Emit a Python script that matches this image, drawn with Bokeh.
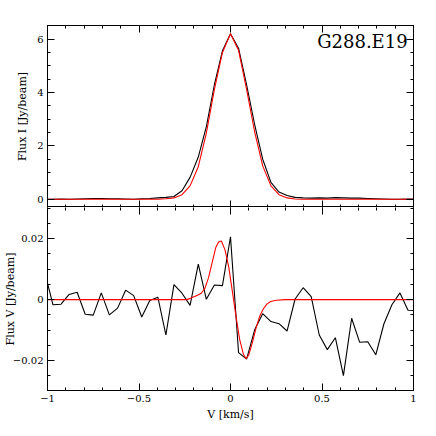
from bokeh.plotting import figure
from bokeh.layouts import column
from bokeh.models import LinearAxis, FixedTicker, Label, Range1d, CustomLabelingPolicy
from bokeh.embed import file_html
from bokeh.resources import INLINE

# ---------------- data ----------------
velocity = [-1.014, -0.970, -0.926, -0.882, -0.838, -0.794, -0.750, -0.706, -0.662, -0.617,
            -0.573, -0.529, -0.485, -0.441, -0.397, -0.353, -0.309, -0.265, -0.221, -0.176,
            -0.132, -0.088, -0.044, 0.000, 0.044, 0.088, 0.132, 0.176, 0.221, 0.265,
            0.309, 0.353, 0.397, 0.441, 0.485, 0.529, 0.573, 0.617, 0.662, 0.706,
            0.750, 0.794, 0.838, 0.882, 0.926, 0.970, 1.014]

flux_i_obs = [0.00, 0.00, 0.01, 0.00, 0.01, 0.02, 0.03, 0.03, 0.02, 0.02,
              0.01, 0.00, 0.02, 0.03, 0.05, 0.07, 0.10, 0.32, 0.82, 1.58,
              2.72, 4.29, 5.56, 6.20, 5.66, 4.29, 2.80, 1.50, 0.63, 0.27,
              0.14, 0.07, 0.05, 0.04, 0.05, 0.04, 0.06, 0.05, 0.04, 0.04,
              0.03, 0.02, 0.01, 0.00, 0.00, 0.01, 0.00]

flux_i_model = [0.00, 0.00, 0.00, 0.00, 0.00, 0.00, 0.00, 0.00, 0.00, 0.00,
                0.00, 0.00, 0.00, 0.00, 0.00, 0.02, 0.05, 0.17, 0.50, 1.22,
                2.48, 4.12, 5.50, 6.20, 5.58, 4.12, 2.52, 1.25, 0.50, 0.17,
                0.05, 0.01, 0.00, 0.00, 0.00, 0.00, 0.00, 0.00, 0.00, 0.00,
                0.00, 0.00, 0.00, 0.00, 0.00, 0.00, 0.00]

flux_v_obs = [0.0087, -0.0017, -0.0015, 0.0017, 0.0024, -0.0048, -0.0051, 0.0022, -0.0050, -0.0028,
              0.0031, 0.0013, -0.0057, -0.0003, 0.0008, -0.0116, 0.0049, 0.0021, -0.0019, 0.0116,
              0.0001, 0.0048, 0.0046, 0.0206, -0.0174, -0.0195, -0.0099, -0.0046, -0.0072, -0.0079,
              -0.0103, 0.0002, 0.0039, 0.0010, -0.0116, -0.0164, -0.0125, -0.0249, -0.0061, -0.0140,
              -0.0138, -0.0181, -0.0080, -0.0017, 0.0022, -0.0035, -0.0036]

model_v_velocity = [-1.0, -0.24, -0.22, -0.20, -0.18, -0.16, -0.14, -0.12, -0.10, -0.08,
                    -0.065, -0.05, -0.03, -0.01, 0.01, 0.03, 0.05, 0.07, 0.085, 0.10,
                    0.12, 0.14, 0.16, 0.18, 0.20, 0.22, 0.25, 0.30, 1.0]
flux_v_model = [0.0, 0.0, 0.0004, 0.0009, 0.0014, 0.0021, 0.0037, 0.0072, 0.0122, 0.0172,
                0.0189, 0.0192, 0.0163, 0.0108, 0.0028, -0.0055, -0.0130, -0.0178, -0.0194, -0.0181,
                -0.0140, -0.0092, -0.0054, -0.0030, -0.0014, -0.0006, -0.0002, 0.0, 0.0]

source_name = "G288.E19"

# ---------------- styling helpers ----------------
FONT = "DejaVu Serif"
x_ticker = FixedTicker(ticks=[-1, -0.5, 0, 0.5, 1],
                       minor_ticks=[round(-1 + 0.1 * i, 2) for i in range(21)])
x_over = {-1: "\u22121", -0.5: "\u22120.5"}


def style_axis(ax, labels=True):
    ax.major_tick_in = 7
    ax.major_tick_out = 0
    ax.minor_tick_in = 3
    ax.minor_tick_out = 0
    ax.axis_line_color = "black"
    ax.major_tick_line_color = "black"
    ax.minor_tick_line_color = "black"
    ax.major_label_text_font = FONT
    ax.major_label_text_font_size = "10px"
    ax.major_label_text_color = "black"
    ax.axis_label_text_font = FONT
    ax.axis_label_text_font_size = "11px"
    ax.axis_label_text_font_style = "normal"
    ax.axis_label_text_color = "black"
    if not labels:
        ax.major_label_text_font_size = "0px"
        ax.major_label_standoff = 0
        ax.major_label_policy = CustomLabelingPolicy(code="")
        ax.axis_label = None


# ---------------- top panel: Stokes I ----------------
p1 = figure(frame_width=366, frame_height=182,
            x_range=Range1d(-1, 1), y_range=Range1d(-0.31, 6.51),
            output_backend="svg", toolbar_location=None,
            min_border_left=39, min_border_right=15, min_border_top=25, min_border_bottom=0)
p1.xgrid.visible = False
p1.ygrid.visible = False
p1.outline_line_color = "black"

y1_ticker = FixedTicker(ticks=[0, 2, 4, 6], minor_ticks=[i * 0.5 for i in range(-1, 14)])

p1.xaxis.ticker = x_ticker
style_axis(p1.xaxis[0], labels=False)
p1.yaxis.ticker = y1_ticker
style_axis(p1.yaxis[0])
p1.yaxis.axis_label = "Flux I [Jy/beam]"
p1.yaxis.major_label_standoff = 4
p1.yaxis.axis_label_standoff = 5

ax = LinearAxis(ticker=x_ticker)
style_axis(ax, labels=False)
p1.add_layout(ax, "above")
ay = LinearAxis(ticker=y1_ticker)
style_axis(ay, labels=False)
p1.add_layout(ay, "right")

p1.line(velocity, flux_i_obs, line_color="black", line_width=1.1)
p1.line(velocity, flux_i_model, line_color="#ff0000", line_width=1.1)

p1.add_layout(Label(x=0.968, y=5.90, text=source_name, text_align="right",
                    text_baseline="middle", text_font=FONT, text_font_size="18px",
                    text_color="black"))

# ---------------- bottom panel: Stokes V ----------------
p2 = figure(frame_width=366, frame_height=183,
            x_range=p1.x_range, y_range=Range1d(-0.0298, 0.0302),
            output_backend="svg", toolbar_location=None,
            min_border_left=39, min_border_right=15, min_border_top=0, min_border_bottom=30)
p2.xgrid.visible = False
p2.ygrid.visible = False
p2.outline_line_color = None

y2_ticker = FixedTicker(ticks=[-0.02, 0, 0.02],
                        minor_ticks=[round(-0.03 + 0.005 * i, 3) for i in range(13)])

p2.xaxis.ticker = x_ticker
style_axis(p2.xaxis[0])
p2.xaxis.major_label_overrides = x_over
p2.xaxis.axis_label = "V [km/s]"
p2.xaxis.major_label_standoff = 4
p2.xaxis.axis_label_standoff = 3

p2.yaxis.ticker = y2_ticker
style_axis(p2.yaxis[0])
p2.yaxis.major_label_overrides = {-0.02: "\u22120.02"}
p2.yaxis.axis_label = "Flux V [Jy/beam]"
p2.yaxis.major_label_standoff = 4
p2.yaxis.axis_label_standoff = -7

ax2 = LinearAxis(ticker=x_ticker)
style_axis(ax2, labels=False)
ax2.axis_line_color = None
p2.add_layout(ax2, "above")
ay2 = LinearAxis(ticker=y2_ticker)
style_axis(ay2, labels=False)
p2.add_layout(ay2, "right")

p2.line(velocity, flux_v_obs, line_color="black", line_width=1.1)
p2.line(model_v_velocity, flux_v_model, line_color="#ff0000", line_width=1.1)

layout = column(p1, p2, spacing=0)

open("out.html", "w").write(file_html(layout, INLINE))
